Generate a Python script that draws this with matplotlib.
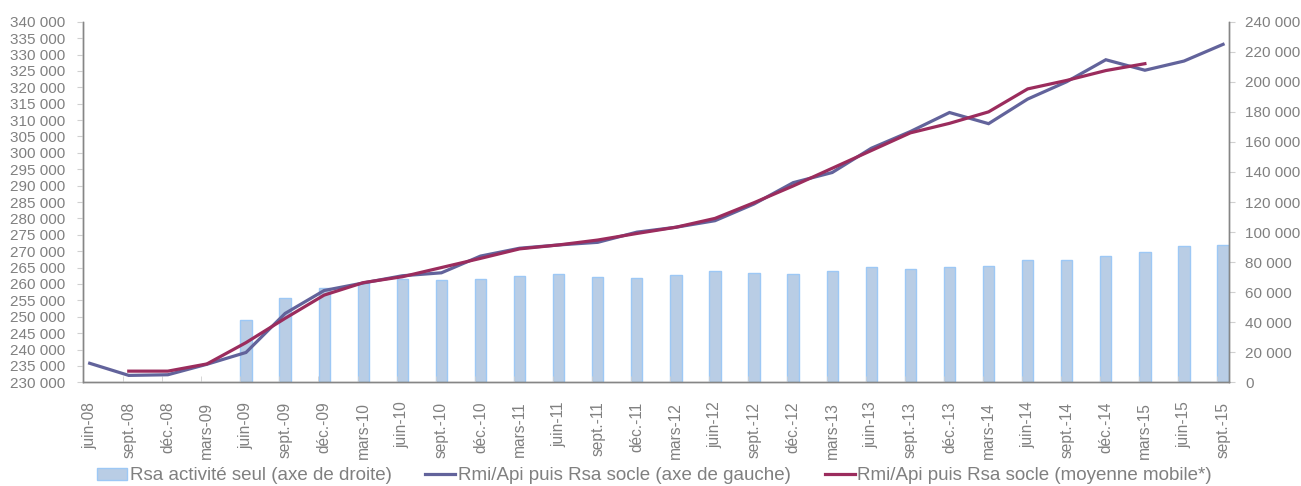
#!/usr/bin/env python3

import matplotlib
matplotlib.use('Agg')
import matplotlib.pyplot as plt
from matplotlib.ticker import FuncFormatter
from matplotlib.patches import Patch
from matplotlib.lines import Line2D
import numpy as np

quarters = ['juin-08', 'sept.-08', 'déc.-08', 'mars-09', 'juin-09', 'sept.-09', 'déc.-09',
            'mars-10', 'juin-10', 'sept.-10', 'déc.-10', 'mars-11', 'juin-11', 'sept.-11',
            'déc.-11', 'mars-12', 'juin-12', 'sept.-12', 'déc.-12', 'mars-13', 'juin-13',
            'sept.-13', 'déc.-13', 'mars-14', 'juin-14', 'sept.-14', 'déc.-14', 'mars-15',
            'juin-15', 'sept.-15']

# Rsa activite seul (right axis), starts juin-09
rsa_activite = [np.nan, np.nan, np.nan, np.nan, 41700, 56300, 62600, 66300, 69000, 68100,
                68800, 70800, 72300, 70100, 69400, 71600, 73900, 72500, 71900, 73900,
                76700, 75200, 76500, 77400, 81600, 81600, 84100, 86500, 90500, 91400]

# Rmi/Api puis Rsa socle (left axis)
rsa_socle = [235800, 232100, 232300, 235500, 239100, 251000, 258000, 260300, 262500, 263400,
             268500, 270900, 271900, 272700, 275800, 277300, 279300, 284400, 290900, 294000,
             301400, 306500, 312300, 308900, 316400, 321700, 328400, 325200, 328000, 333100]

# moving average, sept-08 .. mars-15
rsa_socle_mm = [np.nan, 233400, 233400, 235600, 242100, 249500, 256600, 260400, 262200, 265000,
                267800, 270700, 271900, 273400, 275400, 277300, 280000, 284800, 289900, 295300,
                300700, 306100, 309000, 312500, 319500, 322100, 325100, 327200, np.nan, np.nan]

grey = '#808080'
bar_fill = '#B9CDE5'
bar_edge = '#9DC8F5'
c_socle = '#62639B'
c_mm = '#9B2C5D'

plt.rc('font', family=['Liberation Sans', 'DejaVu Sans'], size=11)

fig = plt.figure(figsize=(13.01, 4.86), dpi=100)
ax = fig.add_axes([0.064, 0.2134, 0.8809, 0.7419])
ax2 = ax.twinx()
x = np.arange(len(quarters))

# bars on the right axis, behind the lines
ax2.bar(x, rsa_activite, width=0.29, color=bar_fill, edgecolor=bar_edge, linewidth=1.0)
ax2.set_ylim(0, 240000)
ax2.set_yticks(np.arange(0, 240001, 20000))

ax.plot(x, rsa_socle, color=c_socle, linewidth=2.3, solid_joinstyle='miter')
ax.plot(x, rsa_socle_mm, color=c_mm, linewidth=2.3, solid_joinstyle='miter')
ax.set_ylim(230000, 340000)
ax.set_yticks(np.arange(230000, 340001, 5000))
ax.set_zorder(ax2.get_zorder() + 1)
ax.patch.set_visible(False)

fmt = FuncFormatter(lambda v, p: f'{int(v):,}'.replace(',', ' '))
ax.yaxis.set_major_formatter(fmt)
ax2.yaxis.set_major_formatter(fmt)

ax.set_xlim(-0.164, 29.16)
ax.set_xticks(x)
ax.set_xticklabels(quarters, rotation=90)
ax.set_xticks(np.arange(1, len(quarters)) - 0.146, minor=True)

for a in (ax, ax2):
    a.spines['top'].set_visible(False)
    for s in ('left', 'right', 'bottom'):
        a.spines[s].set_color('#868686')
        a.spines[s].set_linewidth(1.0)
ax.tick_params(axis='x', which='major', length=0, pad=14, colors=grey, labelsize=11.2)
ax.tick_params(axis='x', which='minor', direction='in', length=4, color='#D0D0D0')
ax.tick_params(axis='y', length=4.5, pad=8.5, colors=grey, labelsize=11)
ax.tick_params(axis='y', color='#D0D0D0')
ax2.tick_params(axis='y', length=4.5, pad=7, colors=grey, labelsize=11)
ax2.tick_params(axis='y', color='#D0D0D0')

handles = [Patch(facecolor=bar_fill, edgecolor=bar_edge),
           Line2D([], [], color=c_socle, linewidth=2.3),
           Line2D([], [], color=c_mm, linewidth=2.3)]
labels = ['Rsa activité seul (axe de droite)',
          'Rmi/Api puis Rsa socle (axe de gauche)',
          'Rmi/Api puis Rsa socle (moyenne mobile*)']
leg = fig.legend(handles, labels, loc='center', bbox_to_anchor=(0.503, 0.021), ncol=3,
                 frameon=False, handlelength=1.6, handleheight=0.6, handletextpad=0.15,
                 columnspacing=1.8, fontsize=13.5)
for t in leg.get_texts():
    t.set_color(grey)

plt.savefig('out.png', dpi=100)
